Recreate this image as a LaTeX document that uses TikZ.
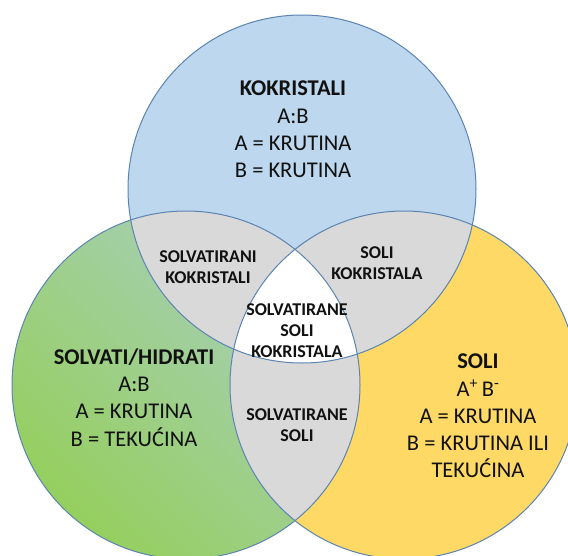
\documentclass[tikz,border=0pt]{standalone}
\usepackage{fontspec}
\setmainfont{Carlito}
\definecolor{cblue}{HTML}{BDD7EE}
\definecolor{cyellow}{HTML}{FFD966}
\definecolor{cgray}{HTML}{D9D9D9}
\definecolor{cline}{HTML}{5B84B1}
\definecolor{gtop}{HTML}{A9CFC2}
\definecolor{gbot}{HTML}{95CF5E}
\definecolor{ctext}{HTML}{111111}
\begin{document}
\begin{tikzpicture}[x=1pt,y=-1pt,
  ring/.style={draw=cline,line width=1pt},
  big/.style={font=\fontsize{22.5}{27.3}\selectfont,align=center,inner sep=0pt,text=ctext},
  small/.style={font=\fontsize{18}{21}\selectfont\bfseries,align=center,inner sep=0pt,text=ctext}]
\useasboundingbox (0,0) rectangle (568,555);
\clip (0,0) rectangle (568,555);
\coordinate (T) at (302,189);
\coordinate (L) at (186,385);
\coordinate (R) at (404,385);
\def\rad{174pt}
\fill[cblue] (T) circle[radius=\rad];
\shade[top color=gtop,bottom color=gbot,shading angle=-45] (L) circle[radius=\rad];
\fill[cyellow] (R) circle[radius=\rad];
\begin{scope}
  \clip (T) circle[radius=\rad];
  \fill[cgray] (L) circle[radius=\rad];
  \fill[cgray] (R) circle[radius=\rad];
\end{scope}
\begin{scope}
  \clip (L) circle[radius=\rad];
  \fill[cgray] (R) circle[radius=\rad];
\end{scope}
\begin{scope}
  \clip (T) circle[radius=\rad];
  \clip (L) circle[radius=\rad];
  \fill[white] (R) circle[radius=\rad];
\end{scope}
\draw[ring] (T) circle[radius=\rad];
\draw[ring] (L) circle[radius=\rad];
\draw[ring] (R) circle[radius=\rad];

\node[big] (kok) at (293,129.5) {\textbf{KOKRISTALI}\\A:B\\A = KRUTINA\\B = KRUTINA};
\node[big] (solv) at (134,397.5) {\textbf{SOLVATI/HIDRATI}\\A:B\\A = KRUTINA\\B = TEKUĆINA};
\node[big] (soli) at (478,416) {\textbf{SOLI}\\A\textsuperscript{+}\,B\textsuperscript{-}\\A = KRUTINA\\B = KRUTINA ILI\\TEKUĆINA};
\node[small] (tl) at (208,267.5) {SOLVATIRANI\\KOKRISTALI};
\node[small] (tr) at (377,263.5) {SOLI\\KOKRISTALA};
\node[small] (mid) at (297,331) {SOLVATIRANE\\SOLI\\KOKRISTALA};
\node[small] (bot) at (297,425) {SOLVATIRANE\\SOLI};
\end{tikzpicture}
\end{document}
